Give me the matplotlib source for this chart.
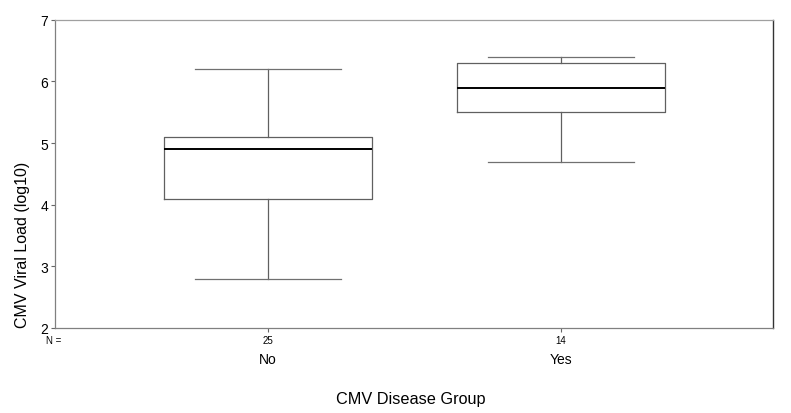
import matplotlib.pyplot as plt

plt.rcParams['font.family'] = ['Liberation Sans', 'DejaVu Sans']

groups = ["No", "Yes"]
counts = [25, 14]
whislo = [2.8, 4.7]
q1 = [4.1, 5.5]
med = [4.9, 5.9]
q3 = [5.1, 6.3]
whishi = [6.2, 6.4]

W, H = 791, 414
fig = plt.figure(figsize=(W / 100, H / 100), dpi=100)
ax = fig.add_axes([55 / W, 1 - 329 / H, (773 - 55) / W, (329 - 20.7) / H])

stats = []
for i, g in enumerate(groups):
    stats.append(dict(label=g, whislo=whislo[i], q1=q1[i], med=med[i],
                      q3=q3[i], whishi=whishi[i], fliers=[]))

ax.bxp(stats, positions=[1, 2], widths=0.713, capwidths=0.5,
       showfliers=False, patch_artist=False,
       boxprops=dict(color="#606060", linewidth=0.9),
       whiskerprops=dict(color="#606060", linewidth=0.9),
       capprops=dict(color="#707070", linewidth=0.9),
       medianprops=dict(color="black", linewidth=1.4))

ax.set_xlim(0.273, 2.7235)
ax.set_ylim(2, 7)
ax.set_yticks([2, 3, 4, 5, 6, 7])
ax.tick_params(axis="y", labelsize=10, length=3, width=0.8, color="#666666", pad=2)
ax.set_xticks([1, 2])
ax.set_xticklabels([str(c) for c in counts], fontsize=7)
ax.tick_params(axis="x", length=3, width=0.8, color="#666666", pad=2)

for side in ["left", "bottom"]:
    ax.spines[side].set_color("#808080")
    ax.spines[side].set_linewidth(0.9)
ax.spines["top"].set_color("#a0a0a0")
ax.spines["top"].set_linewidth(0.9)
ax.spines["right"].set_color("#333333")
ax.spines["right"].set_linewidth(1.0)

# group names under the counts
for pos, g in zip([1, 2], groups):
    ax.text(pos, -0.1, g, transform=ax.get_xaxis_transform(),
            ha="center", va="center", fontsize=10)

fig.text(46 / W, 1 - 341 / H, "N =", ha="left", va="center", fontsize=7)
fig.text(411 / W, 1 - 400 / H, "CMV Disease Group", ha="center", va="center", fontsize=11.7)
fig.text(23 / W, 1 - 245 / H, "CMV Viral Load (log10)", ha="center", va="center",
         rotation=90, fontsize=11.5)

fig.savefig("out.png", dpi=100)
